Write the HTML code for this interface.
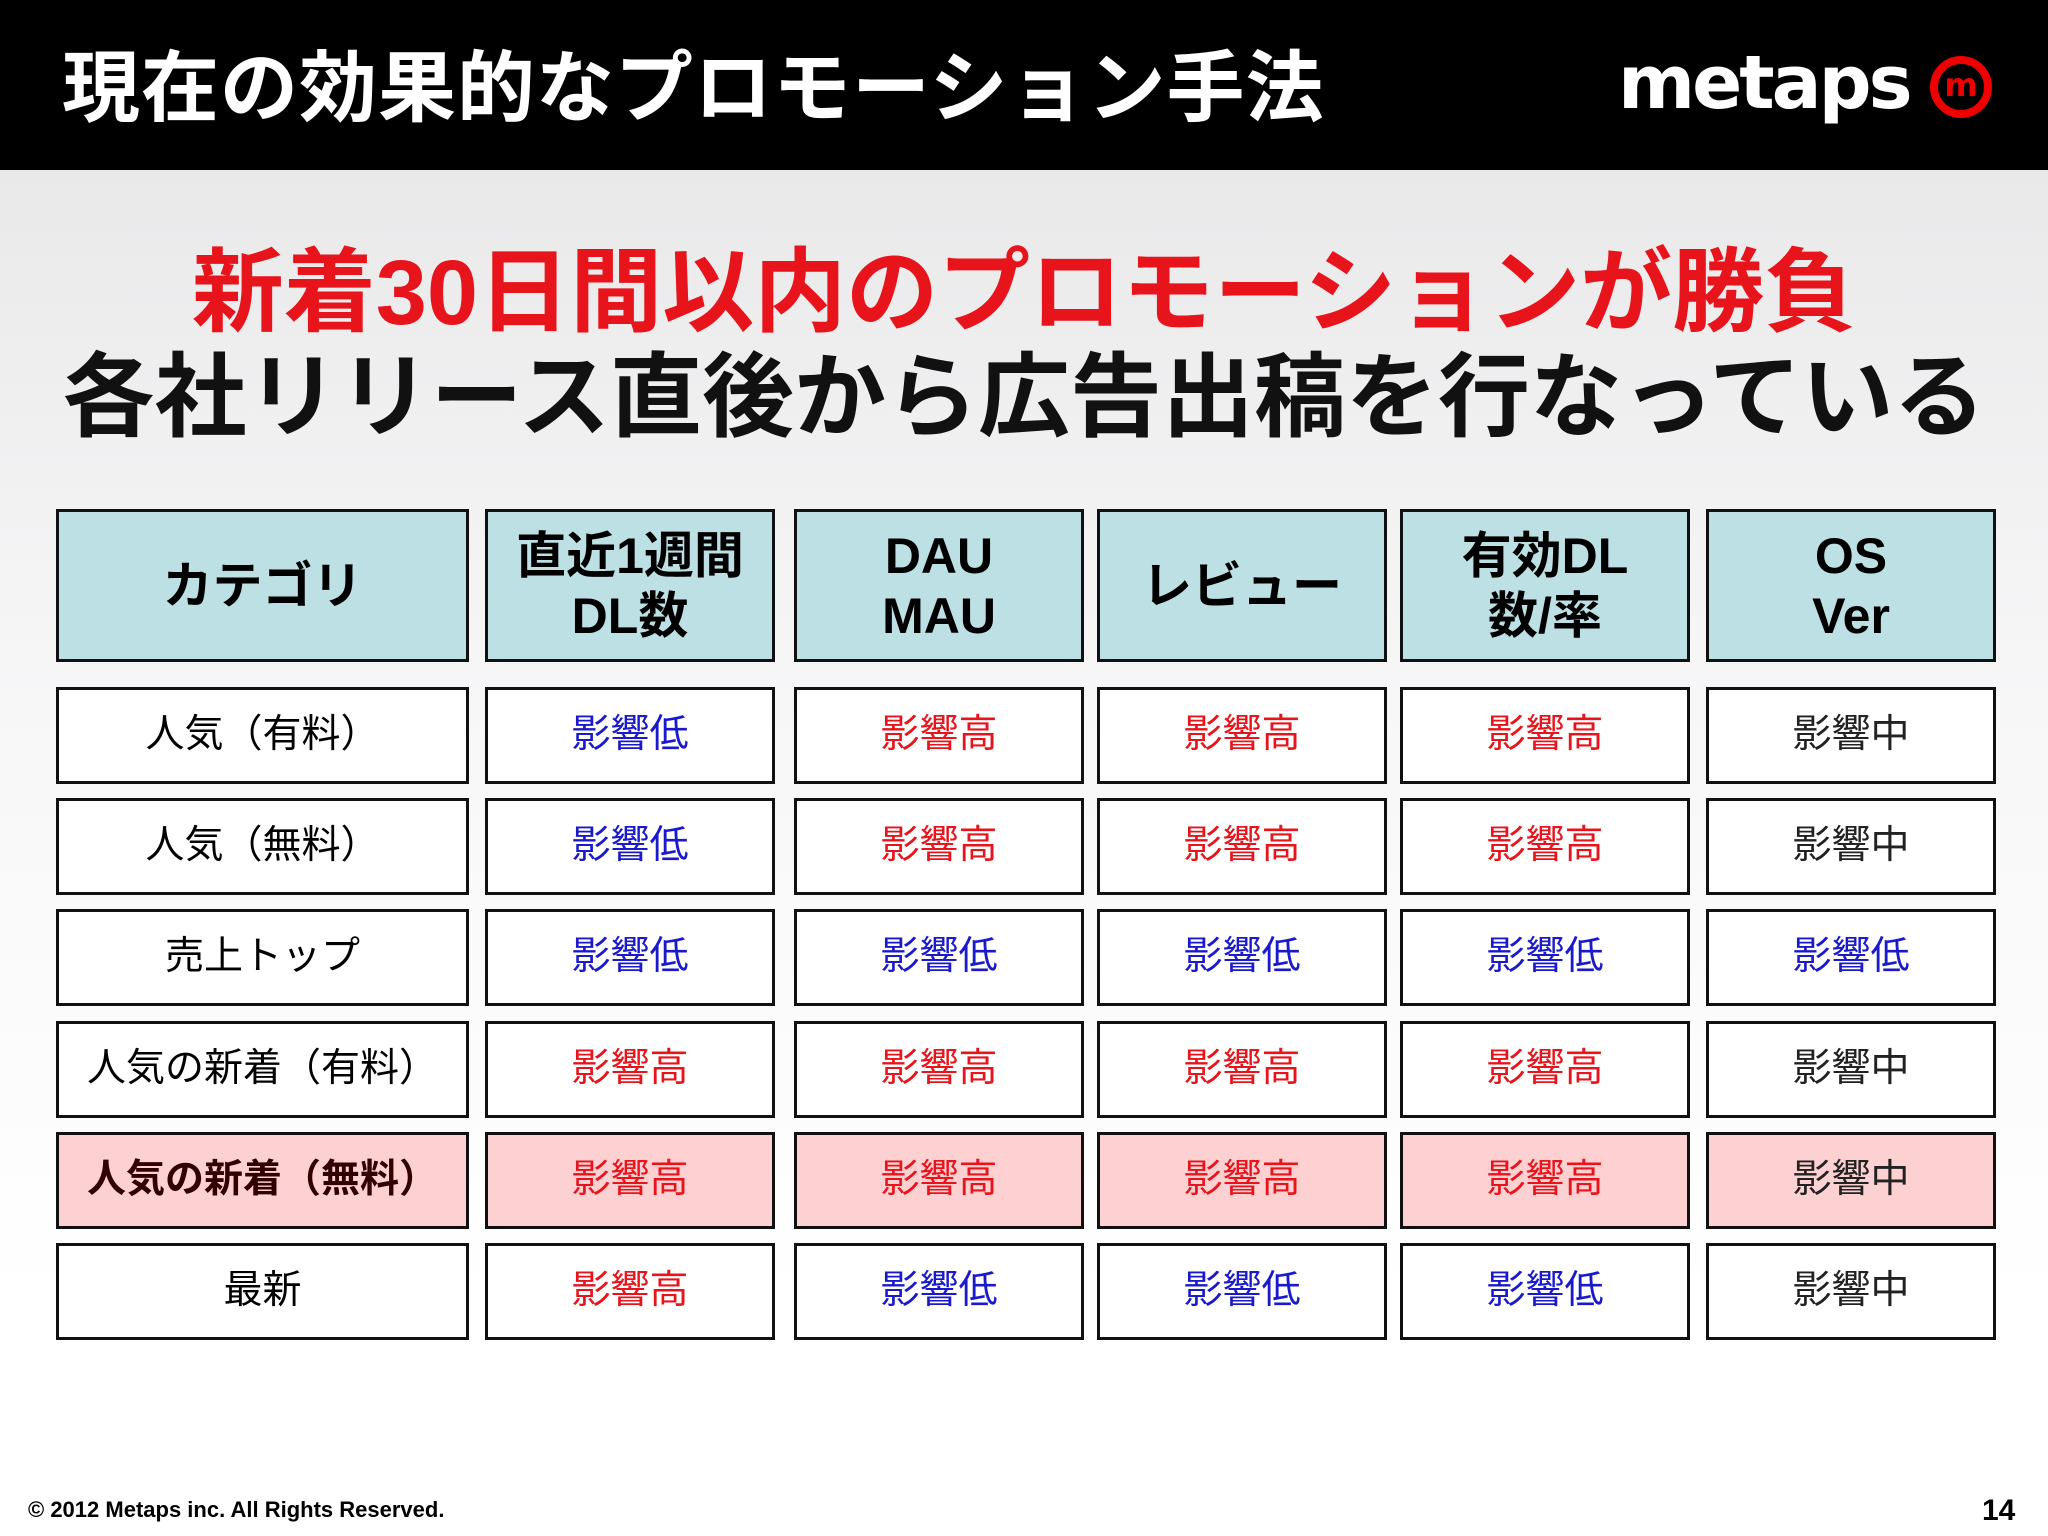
<!DOCTYPE html>
<html><head><meta charset="utf-8">
<style>
*{margin:0;padding:0;box-sizing:border-box}
body{width:2048px;height:1536px;position:relative;overflow:hidden;background:linear-gradient(#e9e9ea 170px,#f7f7f8 700px,#ffffff 1300px);font-family:"Liberation Sans","Noto Sans CJK JP",sans-serif}
#hdr{position:absolute;left:0;top:0;width:2048px;height:170px;background:#000}
#title{position:absolute;left:62px;top:38px;color:#fff;font-size:78px;font-weight:bold;line-height:100px;white-space:nowrap;letter-spacing:1px}
#logo{position:absolute;left:1618px;top:38px;color:#fff;font-size:74px;font-weight:bold;font-family:"DejaVu Sans",sans-serif;letter-spacing:-3px;line-height:90px}
#logom{position:absolute;left:1930px;top:56px;width:62px;height:62px;border:8px solid #e00;border-radius:50%;color:#e00;font:bold 32px "DejaVu Sans",sans-serif;text-align:center;line-height:42px}
.h1{position:absolute;left:0;width:2048px;text-align:center;font-weight:bold;white-space:nowrap}
.cell{position:absolute;border:3px solid #111;display:flex;align-items:center;justify-content:center;text-align:center;font-size:39px;line-height:1.2}
.hc{background:#bce0e3;font-weight:bold;font-size:50px;line-height:60px}
#foot{position:absolute;left:28px;top:1497px;font-size:22px;font-weight:bold}
#pg{position:absolute;left:1982px;top:1494px;font-size:30px;font-weight:bold}
</style></head><body>
<div id="hdr"></div>
<div id="title">現在の効果的なプロモーション手法</div>
<div id="logo">metaps</div>
<div id="logom">m</div>
<div class="h1" style="top:243px;font-size:92px;color:#e8141c;line-height:100px">新着30日間以内のプロモーションが勝負</div>
<div class="h1" style="top:348px;font-size:92px;color:#111;line-height:100px">各社リリース直後から広告出稿を行なっている</div>
<div id="tbl"></div>
<div id="foot">© 2012 Metaps inc. All Rights Reserved.</div>
<div id="pg">14</div>
<script>
const headers=["カテゴリ","直近1週間<br>DL数","DAU<br>MAU","レビュー","有効DL<br>数/率","OS<br>Ver"];
const categories=["人気（有料）","人気（無料）","売上トップ","人気の新着（有料）","人気の新着（無料）","最新"];
const impacts=[
["低","高","高","高","中"],
["低","高","高","高","中"],
["低","低","低","低","低"],
["高","高","高","高","中"],
["高","高","高","高","中"],
["高","低","低","低","中"]];
const highlightRow=4;
const colX=[56,485,794,1097,1400,1706],colW=[413,290,290,290,290,290];
const rowY=[687,798,909,1021,1132,1243],rowH=97;
const colors={"高":"#e8141c","低":"#1a1acc","中":"#222"};
const tbl=document.getElementById('tbl');
function mk(x,y,w,h,html,cls){const d=document.createElement('div');d.className='cell '+cls;d.style.left=x+'px';d.style.top=y+'px';d.style.width=w+'px';d.style.height=h+'px';d.innerHTML=html;tbl.appendChild(d);return d;}
headers.forEach((t,i)=>{const d=mk(colX[i],509,colW[i],153,t,'hc');

});
categories.forEach((c,r)=>{const hl=r===highlightRow;
const d=mk(colX[0],rowY[r],colW[0],rowH,c,'');


d.style.background=hl?'#fdd0d2':'#fff';if(hl){d.style.fontWeight='bold';d.style.color='#300';}
impacts[r].forEach((v,j)=>{const e=mk(colX[j+1],rowY[r],colW[j+1],rowH,'影響'+v,'');


e.style.background=hl?'#fdd0d2':'#fff';e.style.color=colors[v];});});
</script>
</body></html>
